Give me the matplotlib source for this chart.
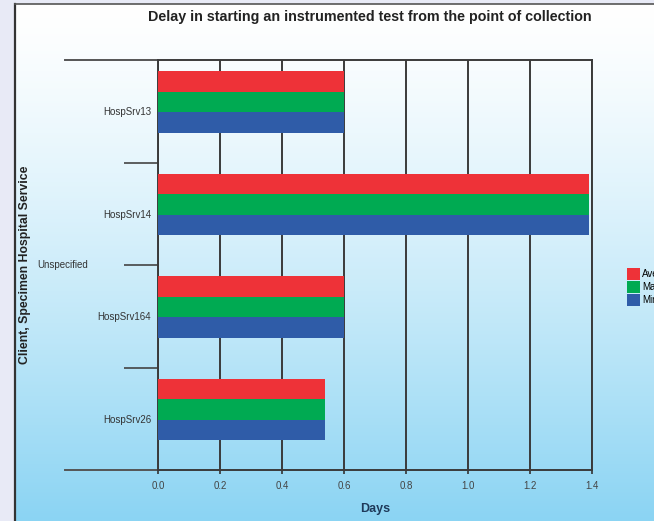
import numpy as np
import matplotlib.pyplot as plt
from matplotlib.colors import to_rgb
from matplotlib.lines import Line2D

plt.rcParams['font.family'] = ['Liberation Sans', 'DejaVu Sans']

services = ['HospSrv13', 'HospSrv14', 'HospSrv164', 'HospSrv26']
average_days = [0.60, 1.39, 0.60, 0.54]
maximum_days = [0.60, 1.39, 0.60, 0.54]
minimum_days = [0.60, 1.39, 0.60, 0.54]
series_names = ['Average', 'Maximum', 'Minimum']
series_colors = ['#ee3238', '#00aa52', '#2f5ca8']
x_ticks = [0.0, 0.2, 0.4, 0.6, 0.8, 1.0, 1.2, 1.4]

W, H = 654, 521
fig = plt.figure(figsize=(W / 100, H / 100), dpi=100)
fig.patch.set_facecolor('#e8eaf6')

# panel with a white-to-sky-blue vertical gradient
bg = fig.add_axes([15 / W, 0, 1 - 15 / W, 1 - 4 / H], zorder=-5)
t = np.linspace(0, 1, 256)[:, None] ** 1.3
top, bottom = np.array(to_rgb('#ffffff')), np.array(to_rgb('#8bd4f3'))
grad = top[None, None, :] * (1 - t[..., None]) + bottom[None, None, :] * t[..., None]
grad = np.repeat(grad, 2, axis=1)
bg.imshow(grad, aspect='auto', extent=[0, 1, 0, 1])
bg.set_axis_off()
fig.add_artist(Line2D([15 / W, 15 / W], [0, 1 - 4 / H], color='#333333', lw=1.6))
fig.add_artist(Line2D([15 / W, 1], [1 - 4 / H, 1 - 4 / H], color='#555555', lw=1.2))

ax = fig.add_axes([158 / W, 1 - 470 / H, 434 / W, 410 / H])
ax.set_facecolor('none')

y = np.arange(len(services))
h = 0.2
shift = -0.09
for k, (vals, name, col) in enumerate(zip([average_days, maximum_days, minimum_days],
                                           series_names, series_colors)):
    ax.barh(y + shift + (k - 1) * h, vals, height=h, color=col, label=name, zorder=3)

ax.set_xlim(0, 1.4)
ax.set_ylim(3.5, -0.5)
ax.set_xticks(x_ticks)
ax.set_xticklabels([f'{v:.1f}' for v in x_ticks])
ax.grid(axis='x', color='#3a3a3a', lw=1.4, zorder=1)
ax.tick_params(axis='x', length=3, width=1.2, pad=5, labelsize=7, labelcolor='#444444', color='#333333')

ax.set_yticks(y)
ax.set_yticklabels(services)
ax.set_yticks([0.5, 1.5, 2.5], minor=True)
ax.tick_params(axis='y', which='major', length=0, pad=5, labelsize=7, labelcolor='#333333')
ax.tick_params(axis='y', which='minor', length=24.5, width=1.2, color='#444444')

for s in ax.spines.values():
    s.set_color('#3a3a3a')
    s.set_linewidth(1.4)

# long separators at the top and bottom of the category axis
for yy in (0, 1):
    ax.plot([-0.215, 0], [yy, yy], transform=ax.transAxes, color='#555555', lw=1.4, clip_on=False)

ax.text(-0.279, 0.5, 'Unspecified', transform=ax.transAxes, ha='left', va='center',
        fontsize=7, color='#333333')

ax.set_xlabel('Days', fontsize=9, fontweight='bold', color='#1f3a5a')
ax.xaxis.set_label_coords(0.5, -0.08)
ax.set_ylabel('Client, Specimen Hospital Service', fontsize=8.8, fontweight='bold', color='#222222')
ax.yaxis.set_label_coords(-0.292, 0.5)

fig.text(370 / W, 1 - 17 / H, 'Delay in starting an instrumented test from the point of collection',
         ha='center', va='center', fontsize=10.3, fontweight='bold', color='#222222')

fig.legend(loc='upper left', bbox_to_anchor=(623 / W, 1 - 264 / H), frameon=False,
           fontsize=7, handlelength=1.3, handleheight=1.6, handletextpad=0.3,
           labelspacing=0.05, borderaxespad=0)

fig.savefig('out.png', dpi=100)
